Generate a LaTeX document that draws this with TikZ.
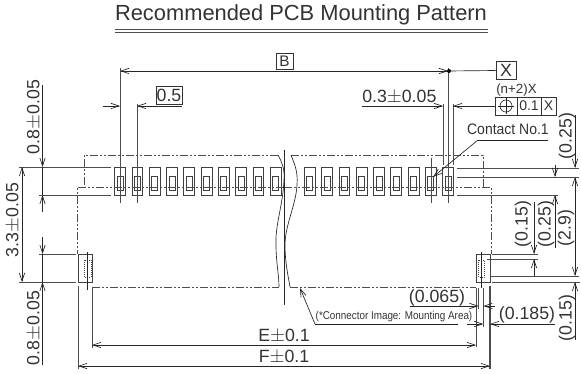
\documentclass[tikz,border=0pt]{standalone}
\usepackage{fontspec}
\setmainfont{Liberation Sans}
\usetikzlibrary{arrows.meta}
\tikzset{
    dimline/.style={draw=black!85, line width=0.5pt},
    extline/.style={draw=black!70, line width=0.6pt},
    dimarrow/.style={dimline, -{Straight Barb[length=6pt,width=4pt]}},
    outline/.style={draw=black!70, line width=0.5pt, dash pattern=on 6pt off 1.5pt on 1.5pt off 1.5pt on 1.5pt off 1.5pt},
    padbox/.style={draw=black!75, line width=0.5pt},
    framebox/.style={draw=black!80, line width=0.6pt},
    dimtext/.style={inner sep=0pt, font=\fontsize{13.3}{14}\selectfont, text=black!80},
    smalltext/.style={inner sep=0pt, font=\fontsize{8.6}{10}\selectfont, text=black!80}
}
\newcommand{\pmtext}{\ensuremath{\pm}}
\begin{document}
\begin{tikzpicture}[x=0.75pt, y=-0.75pt]
    \useasboundingbox (0,0) rectangle (581,374);

    % title
    \node(title) [dimtext, font=\fontsize{16.4}{18}\selectfont] at (301,15) {Recommended PCB Mounting Pattern};
    \draw [black!70, line width=0.7pt] (115,29) -- (488,29);
    \draw [black!70, line width=0.7pt] (115,32) -- (488,32);

    % contact pads
    \foreach \px in {120,137.3,...,276,309.7,327,...,449} {
        \draw [padbox] (\px-5.4,167) rectangle (\px+5.4,195);
        \draw [padbox] (\px-3,176) rectangle (\px+3,190);
    }

    % mounting pads
    \draw [padbox] (78,254) rectangle (92,282);
    \draw [padbox, densely dotted] (84,260) rectangle (91,277);
    \draw [padbox] (476,254) rectangle (490.5,282);
    \draw [padbox, densely dotted] (478.5,260) rectangle (484,277);
    \draw [dimline] (87.5,252) -- (87.5,290);
    \draw [dimline] (481.5,252) -- (481.5,288);

    % connector outline
    \draw [outline] (278,155) -- (84,155) -- (84,186);
    \draw [outline] (291,155) -- (483,155) -- (483,187);
    \draw [outline] (284,187) -- (77,187) -- (77,254);
    \draw [outline] (284,187) -- (491,187) -- (491,254);
    \draw [outline] (92,287) -- (279,287);
    \draw [outline] (290,287) -- (476,287);

    % break lines
    \draw [dimline] (284,150) -- (284,305);
    \draw [dimline] (278,155) .. controls (282,162) and (285,170) .. (284,180) .. controls (283,205) and (275,225) .. (276,245) .. controls (276,262) and (279,275) .. (279,287);
    \draw [dimline] (291,155) .. controls (295,165) and (298,172) .. (297,185) .. controls (296,205) and (285,225) .. (285,245) .. controls (285,262) and (288,275) .. (290,287);

    % pitch and overall width
    \draw [extline] (120,68) -- (120,203);
    \draw [extline] (137,104) -- (137,203);
    \draw [extline] (448.5,68) -- (448.5,203);
    \draw [extline] (443,104) -- (443,165);
    \draw [extline] (453,104) -- (453,165);
    \draw [extline] (431,158) -- (431,203);

    \node(bbox) [framebox, dimtext, font=\fontsize{11.5}{12}\selectfont, minimum width=12.75pt, minimum height=12pt] at (284.5,61) {B};
    \draw [dimarrow] (284,71) -- (120,71);
    \draw [dimarrow] (284,71) -- (448,71);
    \fill [black] (449,71) circle (1.5pt);
    \node(xbox) [framebox, dimtext, minimum width=15pt, minimum height=14pt] at (506,70.5) {X};
    \draw [dimline] (448,71) -- (xbox.west);

    \draw [dimarrow] (103,106) -- (120,106);
    \draw [dimarrow] (182,106) -- (137,106);
    \node(pitch) [framebox, dimtext, minimum width=19.5pt, minimum height=13.5pt] at (169,95) {0.5};

    \node(width) [dimtext, anchor=base west] at (362,103) {0.3\pmtext 0.05};
    \draw [dimarrow] (362,106) -- (443,106);

    % tolerance frame
    \node(nx) [smalltext, font=\fontsize{10}{10}\selectfont, anchor=base west] at (496,94) {(n+2)X};
    \node(tolone) [framebox, minimum width=16.5pt, minimum height=13.5pt, inner sep=0pt] at (506,106) {};
    \draw [black!85, line width=0.5pt] (tolone.center) circle (4.5pt);
    \draw [black!85, line width=0.5pt] (498,106) -- (514,106);
    \draw [black!85, line width=0.5pt] (506,98) -- (506,114);
    \node(toltwo) [framebox, smalltext, font=\fontsize{10.5}{10}\selectfont, minimum width=18pt, minimum height=13.5pt] at (529,106) {0.1};
    \node(tolthree) [framebox, smalltext, font=\fontsize{10.5}{10}\selectfont, minimum width=11.25pt, minimum height=13.5pt] at (548.5,106) {X};
    \draw [dimarrow] (tolone.west) -- (453,106);

    \node(contact) [smalltext, font=\fontsize{11.4}{12}\selectfont, xscale=0.92, anchor=base east] at (549,135) {Contact No.1};
    \draw [dimline] (548,140) -- (478,140);
    \draw [dimarrow] (478,140) -- (433,177);

    % left dimensions
    \draw [extline] (19,167) -- (111,167);
    \draw [extline] (39,195) -- (111,195);
    \draw [extline] (39,254) -- (76,254);
    \draw [extline] (19,282) -- (76,282);
    \draw [dimarrow] (22,225) -- (22,167);
    \draw [dimarrow] (22,225) -- (22,282);
    \draw [dimarrow] (42.5,85) -- (42.5,167);
    \draw [dimline] (42.5,167) -- (42.5,195);
    \draw [dimarrow] (42.5,212) -- (42.5,195);
    \draw [dimarrow] (42.5,237) -- (42.5,254);
    \draw [dimline] (42.5,254) -- (42.5,282);
    \draw [dimarrow] (42.5,365) -- (42.5,282);
    \node(topland) [dimtext, rotate=90] at (34,117) {0.8\pmtext 0.05};
    \node(span) [dimtext, rotate=90] at (13,220) {3.3\pmtext 0.05};
    \node(botland) [dimtext, rotate=90] at (34,328) {0.8\pmtext 0.05};

    % bottom dimensions
    \draw [extline] (92,288) -- (92,348);
    \draw [extline] (78,286) -- (78,369);
    \draw [extline] (476,288) -- (476,347);
    \draw [extline, line width=0.9pt] (490,286) -- (490,369);
    \draw [extline] (478.5,288) -- (478.5,309);
    \draw [extline] (483.3,288) -- (483.3,327);
    \draw [dimarrow] (284,345) -- (92,345);
    \draw [dimarrow] (284,345) -- (476,345);
    \draw [dimarrow] (284,366) -- (78,366);
    \draw [dimarrow] (284,366) -- (490,366);
    \node(edim) [dimtext, anchor=base] at (284,341) {E\pmtext 0.1};
    \node(fdim) [dimtext, anchor=base] at (284,362) {F\pmtext 0.1};

    % small gaps
    \node(smallgap) [dimtext, anchor=base] at (437,302) {(0.065)};
    \draw [dimarrow] (410,306) -- (478.5,306);
    \draw [dimarrow] (495,306) -- (483.3,306);
    \node(biggap) [dimtext, anchor=base] at (527,319) {(0.185)};
    \draw [dimarrow] (555,324) -- (490,324);
    \draw [dimarrow] (467,324) -- (483.3,324);
    \node(area) [smalltext, font=\fontsize{8.5}{9}\selectfont, xscale=0.87, anchor=base west] at (315.5,319) {(*Connector Image: Mounting Area)};
    \draw [dimline] (458,324) -- (315,324);
    \draw [dimarrow] (315,324) -- (300,288);

    % right dimensions
    \draw [extline] (457,168) -- (579,168);
    \draw [extline] (457,177) -- (579,177);
    \draw [extline] (457,195) -- (558,195);
    \draw [extline] (492,254) -- (538,254);
    \draw [extline] (487,259) -- (538,259);
    \draw [extline] (490,276) -- (579,276);
    \draw [extline] (492,282) -- (580,282);
    \draw [dimarrow] (575,115) -- (575,168);
    \draw [dimarrow] (575,230) -- (575,177);
    \draw [dimarrow] (575,230) -- (575,276);
    \draw [dimarrow] (575,340) -- (575,282);
    \draw [dimarrow] (555,165) -- (555,177);
    \draw [dimarrow] (555,248) -- (555,195);
    \draw [dimarrow] (534,202) -- (534,254);
    \draw [dimarrow] (534,276) -- (534,259);
    \node(rtop) [dimtext, rotate=90] at (567,136) {(0.25)};
    \node(rspan) [dimtext, rotate=90] at (566,228) {(2.9)};
    \node(rbot) [dimtext, rotate=90] at (567,318) {(0.15)};
    \node(rmid) [dimtext, rotate=90] at (546,224) {(0.25)};
    \node(rleft) [dimtext, rotate=90] at (523,224) {(0.15)};
\end{tikzpicture}
\end{document}
